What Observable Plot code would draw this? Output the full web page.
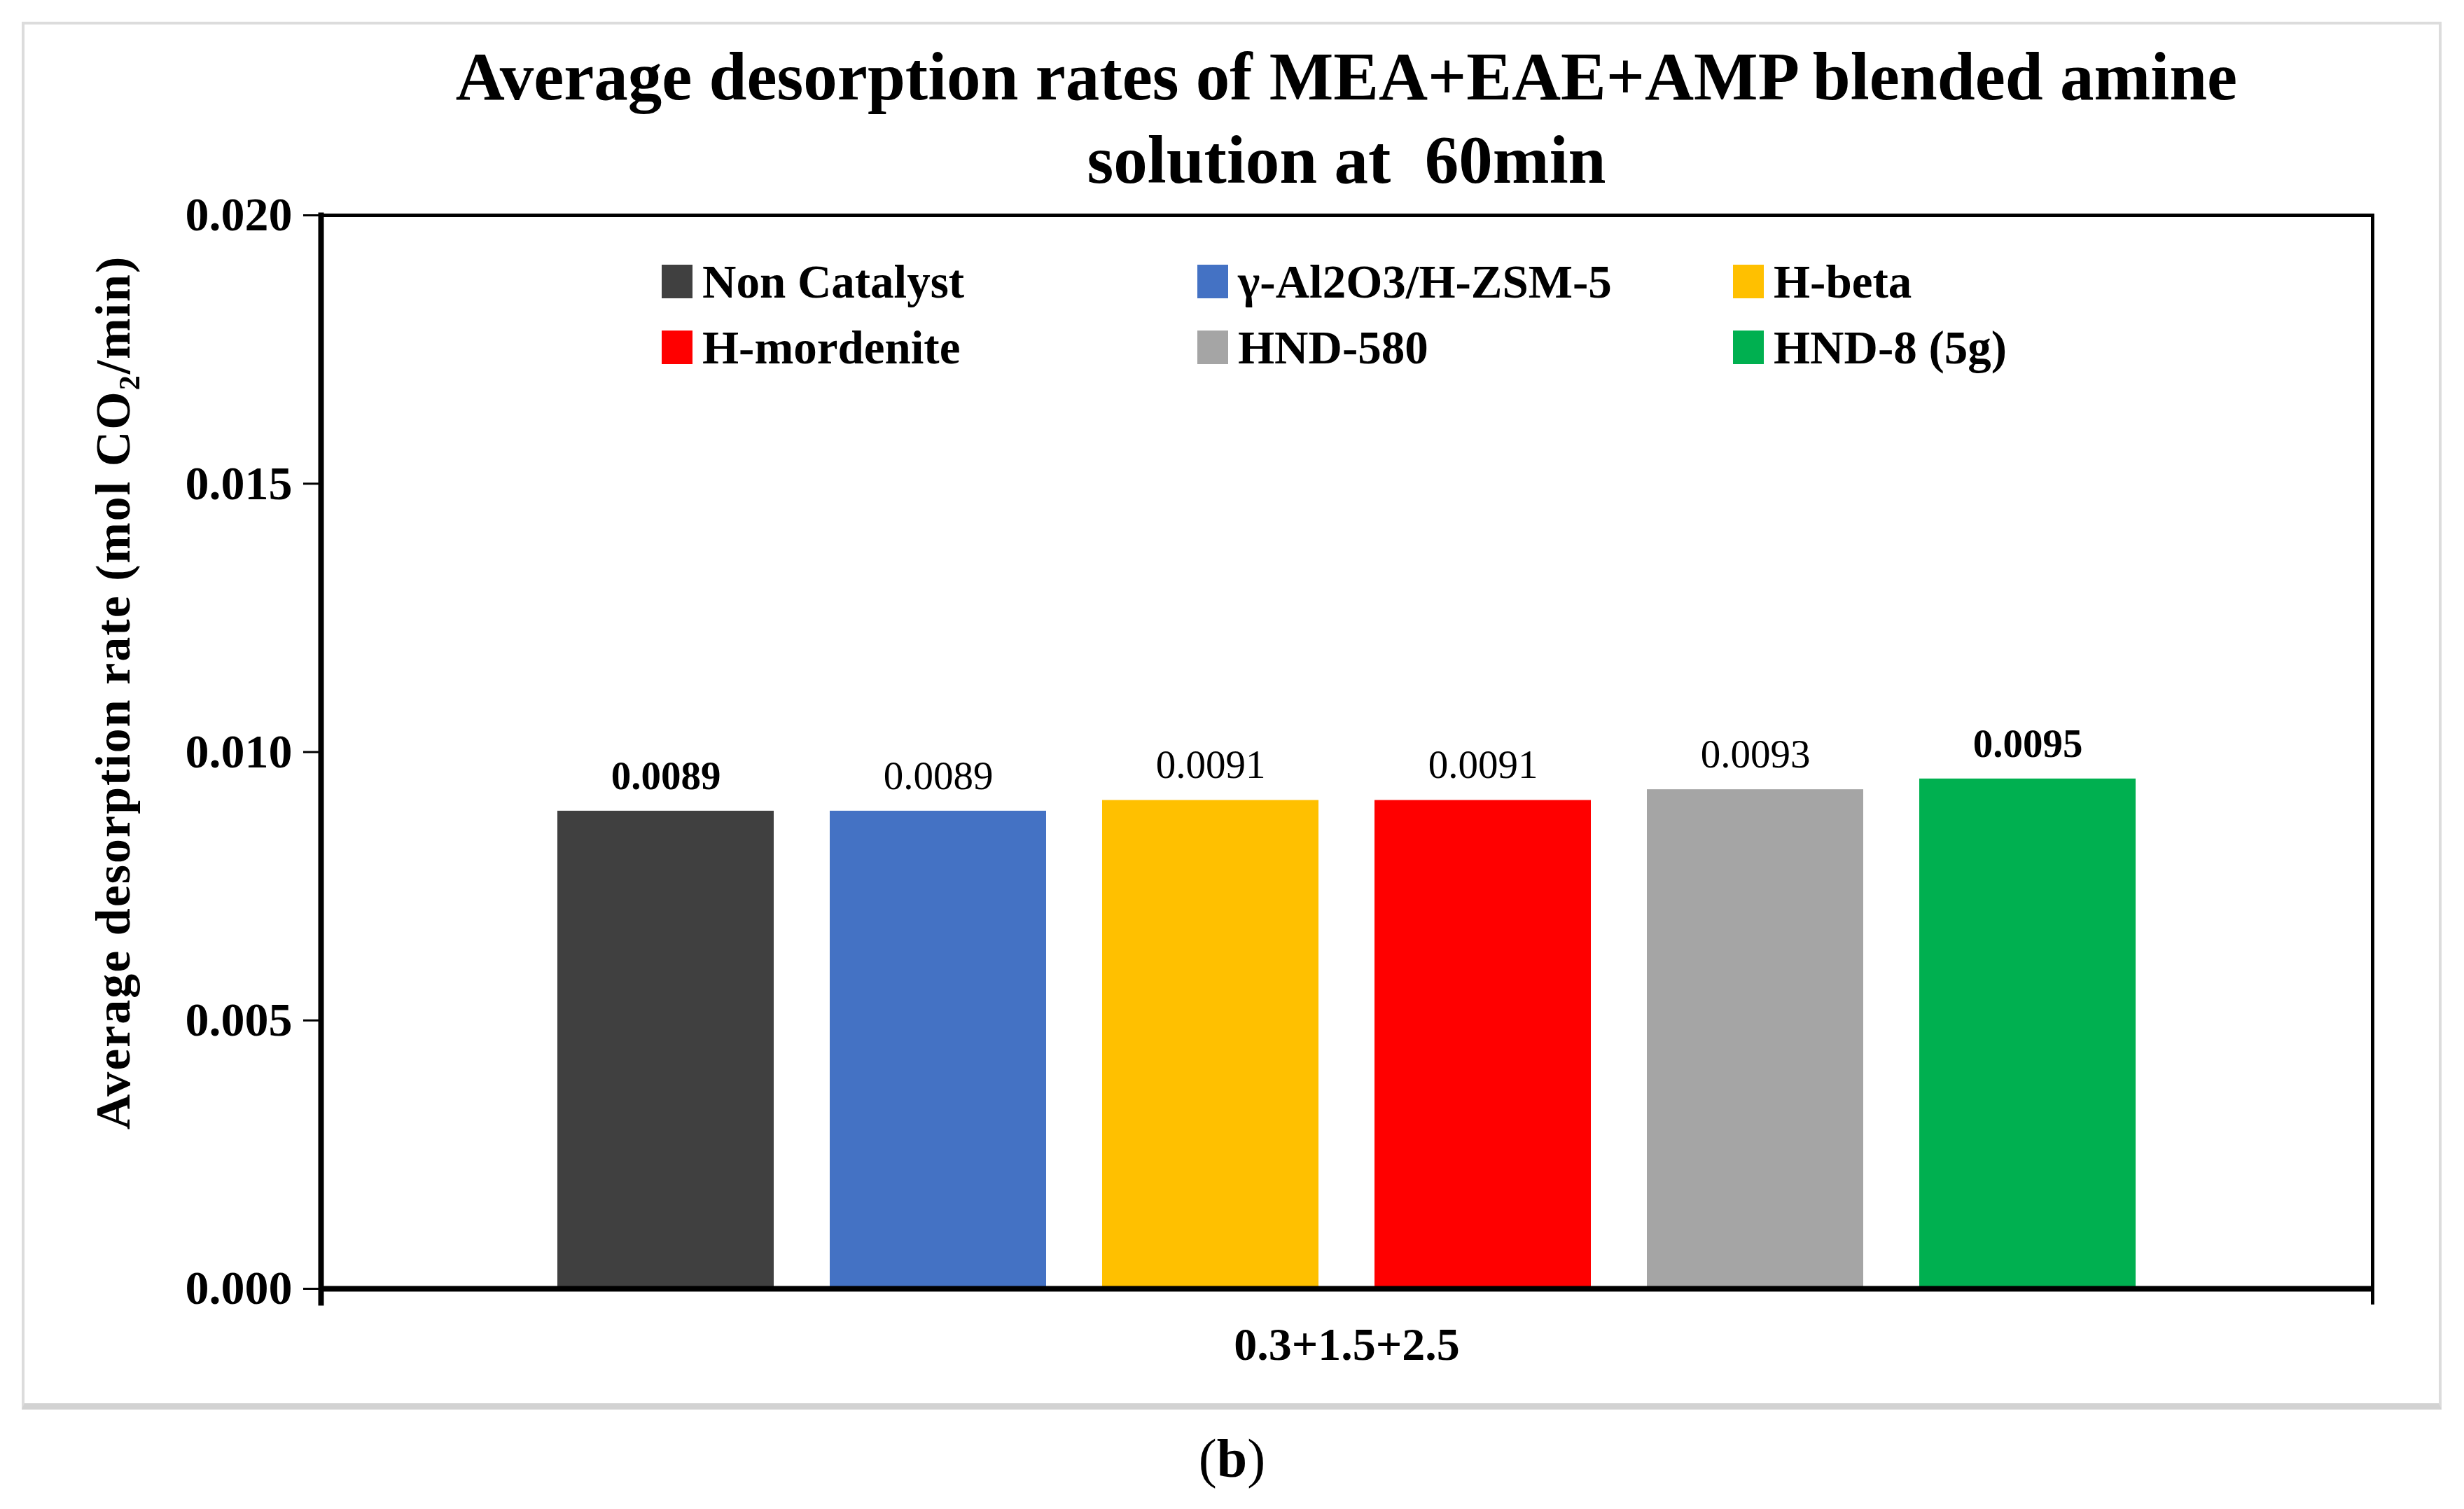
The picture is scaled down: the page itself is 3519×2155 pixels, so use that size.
<!DOCTYPE html>
<html>
<head>
<meta charset="utf-8">
<script src="https://cdn.jsdelivr.net/npm/d3@7"></script>
<script src="https://cdn.jsdelivr.net/npm/@observablehq/plot@0.6"></script>
<style>
  html, body { margin: 0; padding: 0; background: #fff; }
  body { width: 3519px; height: 2155px; position: relative; overflow: hidden;
         font-family: "Liberation Serif", "Times New Roman", serif; color: #000; }
  #panel { position: absolute; left: 31px; top: 31px; width: 3448px; height: 1969px;
           border: 4px solid #dcdcdc; border-bottom: 9px solid #d2d2d2; }
  #title { position: absolute; left: 458px; width: 2930px; top: 50px; text-align: center;
           font-weight: bold; font-size: 97px; line-height: 119px; white-space: pre; }
  #chart { position: absolute; left: 0; top: 260px; }
  #legend { position: absolute; left: 945px; top: 355px; }
  #caption { position: absolute; left: 0; width: 3519px; top: 2033px; text-align: center;
             font-size: 78px; line-height: 100px; }
  .lg-swatches { font-family: "Liberation Serif", "Times New Roman", serif; font-size: 67px;
                 font-weight: bold; color: #000; width: 2295px; margin: 0; }
  .lg-swatch { width: 765px; height: 94px; margin-right: 0 !important; }
  .lg-swatch > svg { margin-right: 14px; }
  g.ylab text { letter-spacing: 2px; }
</style>
</head>
<body>
<div id="panel"></div>
<div id="title"></div>
<div id="chart"></div>
<div id="legend"></div>
<div id="caption"></div>
<script>
const titleLines = ["Average desorption rates of MEA+EAE+AMP blended amine", "solution at  60min"];
const mixture = ["0.3+1.5+2.5"];
const catalysts = ["Non Catalyst", "γ-Al2O3/H-ZSM-5", "H-beta", "H-mordenite", "HND-580", "HND-8 (5g)"];
const rates = [0.0089, 0.0089, 0.0091, 0.0091, 0.0093, 0.0095];
const colors = ["#404040", "#4472C4", "#FFC000", "#FF0000", "#A5A5A5", "#00B050"];
const yTicks = [0, 0.005, 0.010, 0.015, 0.020];
const yLabel = ["Average desorption rate (mol CO₂/min)"];
const captionText = "b";

const data = catalysts.map((c, i) => ({mixture: mixture[0], catalyst: c, rate: rates[i]}));
const font = '"Liberation Serif", "Times New Roman", serif';

document.getElementById("title").textContent = titleLines.join("\n");
const cap = document.getElementById("caption");
cap.append("(");
const b = document.createElement("b"); b.textContent = captionText; cap.append(b);
cap.append(")");

const lastIdx = rates.length - 1;
const plot = Plot.plot({
  width: 3519,
  height: 1740,
  marginLeft: 458,
  marginRight: 131,
  marginTop: 47,
  marginBottom: 160,
  style: {fontFamily: font, background: "transparent", color: "#000", overflow: "visible"},
  fx: {domain: mixture, padding: 0},
  x: {domain: catalysts, paddingInner: 0.205, paddingOuter: 0.86, axis: null},
  y: {domain: [0, 0.02]},
  color: {domain: catalysts, range: colors},
  marks: [
    Plot.barY(data, {fx: "mixture", x: "catalyst", y: "rate", fill: "catalyst"}),
    Plot.text(data, {fx: "mixture", x: "catalyst", y: "rate", text: d => d.rate.toFixed(4),
      filter: (d, i) => i !== 0 && i !== lastIdx,
      dy: -50, lineAnchor: "middle", fontSize: 57, fill: "#000"}),
    Plot.text(data, {fx: "mixture", x: "catalyst", y: "rate", text: d => d.rate.toFixed(4),
      filter: (d, i) => i === 0 || i === lastIdx,
      dy: -50, lineAnchor: "middle", fontSize: 57, fontWeight: "bold", fill: "#000"}),
    Plot.frame({anchor: "top", stroke: "#000", strokeWidth: 5}),
    Plot.frame({anchor: "right", stroke: "#000", strokeWidth: 5, insetBottom: -20}),
    Plot.frame({anchor: "left", stroke: "#000", strokeWidth: 8, insetBottom: -20}),
    Plot.ruleY([0], {stroke: "#000", strokeWidth: 8}),
    Plot.axisY({ticks: yTicks, tickFormat: ".3f", tickSize: 25, tickPadding: 16, strokeWidth: 3,
      fontSize: 68, fontWeight: "bold", label: null}),
    Plot.text(yLabel, {frameAnchor: "left", rotate: -90, dx: -296, dy: -85, lineAnchor: "middle",
      textAnchor: "middle", fontSize: 70, fontWeight: "bold", fill: "#000", className: "ylab"}),
    Plot.axisFx({anchor: "bottom", tickSize: 0, tickPadding: 55, fontSize: 66, fontWeight: "bold", label: null})
  ]
});
document.getElementById("chart").append(plot);

const legend = plot.legend("color", {legend: "swatches", className: "lg", swatchWidth: 44, swatchHeight: 48});
document.getElementById("legend").append(legend);
</script>
</body>
</html>
